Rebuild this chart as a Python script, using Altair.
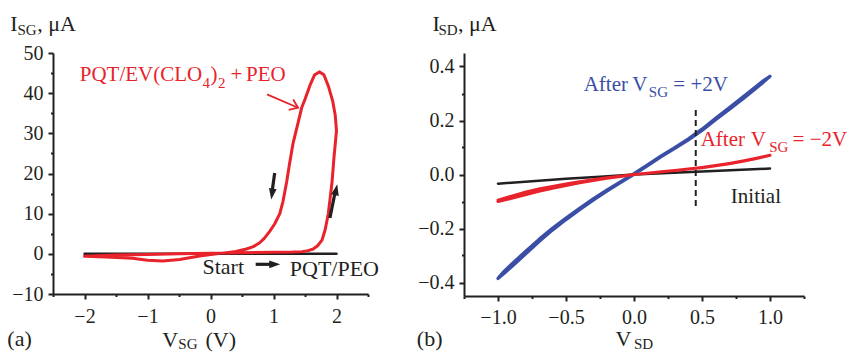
import altair as alt
import pandas as pd

FONT = "Liberation Serif"
RED = "#e8232b"
BLUE = "#3a4ea6"
INK = "#231f20"

# ---------------- Panel (a): I_SG vs V_SG ----------------
a_black_v = [-2.0, 2.0]
a_black_i = [0.0, 0.0]

# red cyclic sweep, in sweep order (-2 -> +2 -> -2)
a_red_v = [-2.0, -1.8, -1.5, -1.0, -0.5, 0.0, 0.5, 1.0, 1.3, 1.45, 1.55, 1.63, 1.7, 1.77,
           1.82, 1.87, 1.90, 1.93, 1.96, 1.99, 2.0,
           1.98, 1.94, 1.87, 1.8, 1.727, 1.65, 1.58, 1.5, 1.45, 1.38, 1.31, 1.25, 1.21,
           1.15, 1.10, 1.02, 0.94, 0.85, 0.78, 0.68, 0.57, 0.4, 0.25, -0.175, -0.49,
           -0.76, -1.0, -1.24, -1.66, -2.0]
a_red_i = [-0.6, -0.45, -0.3, -0.15, 0.0, 0.15, 0.3, 0.4, 0.45, 0.55, 0.8, 1.2, 2.0, 3.4,
           6.0, 10.0, 14.0, 18.0, 24.0, 29.0, 30.6,
           34.5, 38.0, 41.8, 44.6, 45.3, 44.5, 42.0, 38.5, 36.5, 32.0, 27.5, 22.0, 18.0,
           13.0, 10.0, 7.5, 5.6, 3.8, 2.75, 1.8, 1.2, 0.6, 0.3, -0.55, -1.4,
           -1.8, -1.6, -1.1, -0.8, -0.6]

# ---------------- Panel (b): I_SD vs V_SD ----------------
b_init_v = [-1.0, -0.75, -0.5, -0.25, 0.0, 0.25, 0.5, 0.75, 1.0]
b_init_i = [-0.034, -0.025, -0.016, -0.008, 0.0, 0.006, 0.011, 0.017, 0.022]

b_neg_v = [-1.0, -0.9, -0.8, -0.7, -0.6, -0.5, -0.4, -0.3, -0.2, -0.1, 0.0, 0.1, 0.2, 0.3,
           0.4, 0.5, 0.6, 0.7, 0.8, 0.9, 1.0,
           0.9, 0.8, 0.7, 0.6, 0.5, 0.4, 0.3, 0.2, 0.1, 0.0, -0.1, -0.2, -0.3, -0.4,
           -0.5, -0.6, -0.7, -0.8, -0.9, -1.0]
b_neg_i = [-0.100, -0.088, -0.075, -0.062, -0.051, -0.041, -0.031, -0.022, -0.014, -0.007,
           0.0, 0.005, 0.010, 0.015, 0.020, 0.025, 0.032, 0.040, 0.049, 0.059, 0.071,
           0.060, 0.050, 0.041, 0.033, 0.026, 0.020, 0.015, 0.010, 0.005, 0.0, -0.006,
           -0.012, -0.019, -0.027, -0.035, -0.044, -0.054, -0.066, -0.080, -0.095]

b_pos_v = [-1.0, -0.95, -0.9, -0.8, -0.7, -0.6, -0.5, -0.4, -0.3, -0.2, -0.1, 0.0, 0.1, 0.2,
           0.3, 0.4, 0.5, 0.6, 0.7, 0.8, 0.9, 0.95, 1.0,
           0.95, 0.9, 0.8, 0.7, 0.6, 0.5, 0.4, 0.3, 0.2, 0.1, 0.0, -0.1, -0.2, -0.3, -0.4,
           -0.5, -0.6, -0.7, -0.8, -0.9, -0.95, -0.99, -1.0]
b_pos_i = [-0.385, -0.364, -0.342, -0.296, -0.249, -0.206, -0.167, -0.130, -0.095, -0.062,
           -0.030, 0.000, 0.033, 0.066, 0.097, 0.128, 0.163, 0.203, 0.241, 0.280, 0.320,
           0.341, 0.364,
           0.347, 0.327, 0.287, 0.247, 0.208, 0.168, 0.132, 0.100, 0.069, 0.036, 0.003,
           -0.027, -0.058, -0.090, -0.125, -0.161, -0.199, -0.241, -0.286, -0.332, -0.356,
           -0.378, -0.385]

a_xticks = [-2.5, -2.0, -1.5, -1.0, -0.5, 0.0, 0.5, 1.0, 1.5, 2.0, 2.5]
a_yticks = [-10, -5, 0, 5, 10, 15, 20, 25, 30, 35, 40, 45, 50]
b_xticks = [-1.25, -1.0, -0.75, -0.5, -0.25, 0.0, 0.25, 0.5, 0.75, 1.0, 1.25]
b_yticks = [-0.4, -0.3, -0.2, -0.1, 0.0, 0.1, 0.2, 0.3, 0.4]


def mk_axis(values, fmt, major_test, pad):
    return alt.Axis(
        values=values, tickCount=len(values), format=fmt, title=None, grid=False,
        labelExpr=f"({major_test}) ? datum.label : ''",
        labelFont=FONT, labelFontSize=20, labelColor=INK, labelPadding=pad,
        labelOverlap=False, labelFlush=False, labelBound=False,
        domainColor=INK, domainWidth=2, tickColor=INK, tickWidth=2,
        tickSize={"condition": {"test": major_test, "value": 5}, "value": 2.5},
    )


A_X = dict(scale=alt.Scale(domain=[-2.5, 2.5], nice=False, zero=False),
           axis=mk_axis(a_xticks, ".0f", "abs(round(datum.value * 2) % 2) == 0", 7))
A_Y = dict(scale=alt.Scale(domain=[-10, 50], nice=False, zero=False),
           axis=mk_axis(a_yticks, ".0f", "abs(round(datum.value / 5) % 2) == 0", 5))
B_X = dict(scale=alt.Scale(domain=[-1.25, 1.25], nice=False, zero=False),
           axis=mk_axis(b_xticks, ".1f", "abs(round(datum.value * 4) % 2) == 0", 6))
B_Y = dict(scale=alt.Scale(domain=[-0.45, 0.45], nice=False, zero=False),
           axis=mk_axis(b_yticks, ".1f", "abs(round(datum.value * 10) % 2) == 0", 5))


def path_df(v, i):
    return pd.DataFrame({"v": v, "i": i, "k": list(range(len(v)))})


def line(v, i, color, width, X, Y):
    return alt.Chart(path_df(v, i)).mark_line(
        color=color, strokeWidth=width, strokeCap="round", strokeJoin="round"
    ).encode(x=alt.X("v:Q", **X), y=alt.Y("i:Q", **Y), order="k:Q")


def texts(rows, X, Y):
    df = pd.DataFrame(rows, columns=["t", "v", "i", "s", "c"])
    return alt.Chart(df).mark_text(align="left", baseline="alphabetic", font=FONT).encode(
        x=alt.X("v:Q", **X), y=alt.Y("i:Q", **Y), text="t:N",
        size=alt.Size("s:Q", scale=None), color=alt.Color("c:N", scale=None))


def shafts(rows, color, width, X, Y, dash=None):
    df = pd.DataFrame(rows, columns=["v", "i", "v2", "i2"])
    kw = dict(color=color, strokeWidth=width)
    if dash:
        kw["strokeDash"] = dash
    return alt.Chart(df).mark_rule(**kw).encode(
        x=alt.X("v:Q", **X), y=alt.Y("i:Q", **Y), x2="v2:Q", y2="i2:Q")


TRI = "M0,0L-0.7,2L0.7,2Z"
CHEV = "M-0.8,1.1L0,0L0.8,1.1"


def heads(rows, shape, color, size, filled, X, Y):
    df = pd.DataFrame(rows, columns=["v", "i", "a"])
    kw = dict(shape=shape, size=size, filled=filled, color=color, opacity=1)
    if not filled:
        kw["strokeWidth"] = 1.8
    return alt.Chart(df).mark_point(**kw).encode(
        x=alt.X("v:Q", **X), y=alt.Y("i:Q", **Y), angle=alt.Angle("a:Q", scale=None))


# ---------- panel a ----------
a_text = [
    ("I", -3.18, 55.5, 22, INK), ("SG", -3.065, 54.5, 15, INK), (", μA", -2.75, 55.5, 22, INK),
    ("PQT/EV(CLO", -2.075, 43.0, 21, RED), ("4", -0.127, 41.3, 15, RED),
    (")", 0.0, 43.0, 21, RED), ("2", 0.119, 41.3, 15, RED), ("+", 0.318, 43.0, 21, RED),
    ("PEO", 0.565, 43.0, 21, RED),
    ("Start", -0.127, -5.05, 22, INK), ("PQT/PEO", 1.258, -5.5, 22, INK),
    ("(a)", -3.225, -23.06, 22, INK),
    ("V", -0.764, -23.19, 22, INK), ("SG", -0.51, -23.69, 15, INK), ("(V)", -0.08, -23.19, 22, INK),
]
panel_a = alt.layer(
    line(a_black_v, a_black_i, INK, 2.5, A_X, A_Y),
    line(a_red_v, a_red_i, RED, 3, A_X, A_Y),
    shafts([(1.019, 20.11, 0.979, 15.63), (1.895, 8.91, 1.982, 15.63),
            (0.717, -2.61, 0.98, -2.61)], INK, 3.2, A_X, A_Y),
    heads([(0.965, 13.52, 187.7), (2.011, 17.30, 11.6), (1.107, -2.61, 90)],
          TRI, INK, 121, True, A_X, A_Y),
    shafts([(0.897, 39.71, 1.390, 36.37)], RED, 1.8, A_X, A_Y),
    heads([(1.390, 36.37, 113.4)], CHEV, RED, 200, False, A_X, A_Y),
    texts(a_text, A_X, A_Y),
).properties(width=315, height=241)

# ---------- panel b ----------
b_text = [
    ("I", -1.481, 0.531, 22, INK), ("SD", -1.438, 0.518, 15, INK), (", μA", -1.295, 0.531, 22, INK),
    ("After", -0.370, 0.309, 21, BLUE), ("V", -0.013, 0.309, 21, BLUE),
    ("SG", 0.109, 0.288, 15, BLUE), ("= +2V", 0.289, 0.309, 21, BLUE),
    ("After", 0.490, 0.107, 21, RED), ("V", 0.859, 0.107, 21, RED),
    ("SG", 0.994, 0.085, 15, RED), ("= −2V", 1.166, 0.107, 21, RED),
    ("Initial", 0.712, -0.107, 21, INK),
    ("(b)", -1.597, -0.635, 22, INK),
    ("V", -0.136, -0.637, 22, INK), ("SD", 0.0, -0.646, 15, INK),
]
panel_b = alt.layer(
    line(b_pos_v, b_pos_i, BLUE, 3.2, B_X, B_Y),
    line(b_init_v, b_init_i, INK, 2.5, B_X, B_Y),
    line(b_neg_v, b_neg_i, RED, 3, B_X, B_Y),
    shafts([(0.454, 0.239, 0.454, -0.123)], INK, 2, B_X, B_Y, dash=[6, 4]),
    texts(b_text, B_X, B_Y),
).properties(width=340, height=243)

chart = alt.hconcat(panel_a, panel_b, spacing=37).properties(
    padding={"left": -1, "top": 4, "right": -1, "bottom": 0}
).configure_view(stroke=None)

chart.save("out.html", embed_options={"renderer": "svg", "actions": False})
